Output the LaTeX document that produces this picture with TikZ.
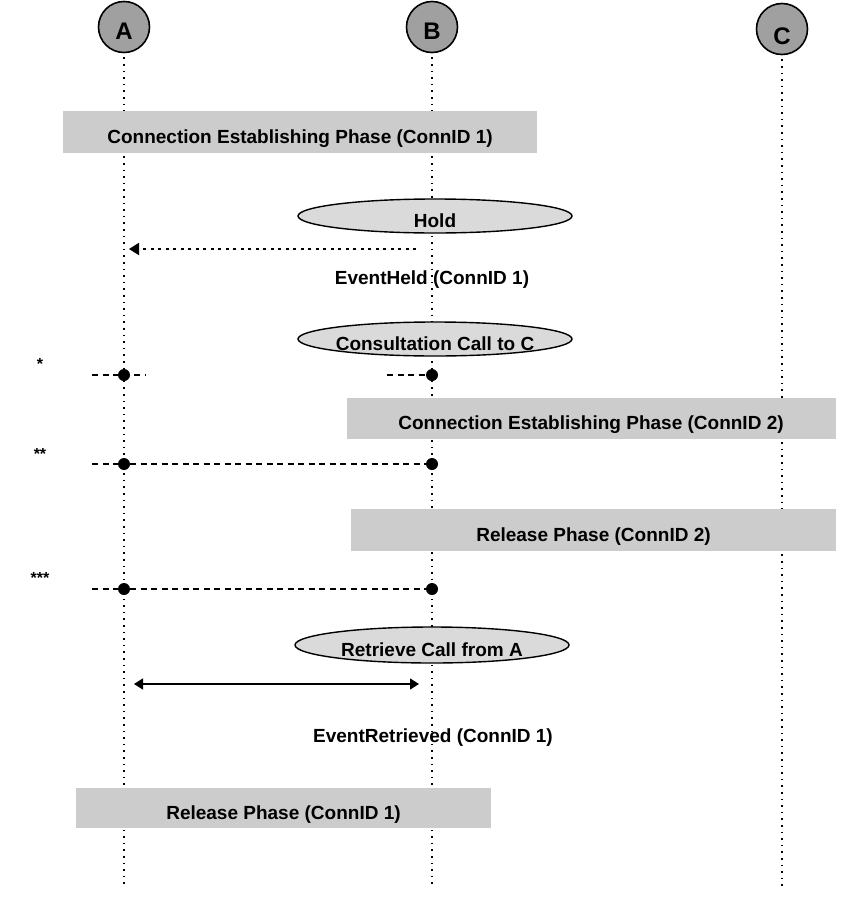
\documentclass[tikz,border=0pt]{standalone}
\usepackage{fontspec}
\setmainfont{Liberation Sans}
\usetikzlibrary{shapes.geometric,arrows.meta}
\definecolor{partygray}{HTML}{A0A0A0}
\definecolor{phasegray}{HTML}{CCCCCC}
\definecolor{actgray}{HTML}{DADADA}
\begin{document}
\begin{tikzpicture}[x=1pt,y=-1pt,
  party/.style={circle,draw=black,line width=1.6pt,fill=partygray,minimum size=51pt,inner sep=0pt,text height=25pt,text depth=0pt,font=\fontsize{24}{26}\selectfont\bfseries},
  lifeline/.style={line width=1.4pt,dash pattern=on 1.6pt off 5pt},
  phase/.style={rectangle,fill=phasegray,inner sep=0pt,text height=22pt,text depth=0pt,font=\fontsize{19}{21}\selectfont\bfseries},
  act/.style={ellipse,draw=black,line width=1.4pt,fill=actgray,minimum width=274pt,minimum height=34pt,inner ysep=0pt,inner xsep=-15pt,text height=22pt,text depth=0pt,font=\fontsize{19}{21}\selectfont\bfseries},
  msg/.style={text height=22pt,text depth=0pt,font=\fontsize{19}{21}\selectfont\bfseries},
  stars/.style={font=\fontsize{16}{18}\selectfont\bfseries},
  pt/.style={circle,fill=black,minimum size=12pt,inner sep=0pt},
  sync/.style={line width=1.3pt,dash pattern=on 6pt off 4.5pt}]
\useasboundingbox (0,0) rectangle (855,900);
% parties
\node[party] (A) at (124,27) {A};
\node[party] (B) at (432,27) {B};
\node[party,text height=30pt] (C) at (782,29) {C};
\coordinate (Aend) at (124,887);
\coordinate (Bend) at (432,887);
\coordinate (Cend) at (782,887);
\draw[lifeline] ([yshift=-4pt]A.south) -- (Aend);
\draw[lifeline] ([yshift=-4pt]B.south) -- (Bend);
\draw[lifeline] ([yshift=-4pt]C.south) -- (Cend);
% phases and actions
\node[phase,minimum width=474pt,minimum height=42pt] (est1) at (300,132) {Connection Establishing Phase (ConnID 1)};
\node[act] (hold) at (435,216) {Hold};
\coordinate (heldB) at (416,249);
\coordinate (heldA) at (129,249);
\draw[line width=1.8pt,dash pattern=on 3pt off 4.5pt,-{Triangle[length=10pt,width=12pt]}] (heldB) -- (heldA);
\node[msg] (held) at (432,273) {EventHeld (ConnID 1)};
\node[act] (consult) at (435,339) {Consultation Call to C};
\node[stars] (m1) at (40,364) {*};
\node[pt] (a1) at (124,375) {};
\node[pt] (b1) at (432,375) {};
\coordinate (a1l) at (92,375);
\coordinate (a1r) at (145,375);
\coordinate (b1l) at (387,375);
\draw[sync] (a1l) -- (a1r);
\draw[sync] (b1l) -- (b1);
\node[phase,minimum width=489pt,minimum height=41pt] (est2) at (591,418) {Connection Establishing Phase (ConnID 2)};
\node[stars] (m2) at (40,454) {**};
\node[pt] (a2) at (124,464) {};
\node[pt] (b2) at (432,464) {};
\coordinate (a2l) at (92,464);
\draw[sync] (a2l) -- (a2) -- (b2);
\node[phase,minimum width=485pt,minimum height=42pt] (rel2) at (593.5,530) {Release Phase (ConnID 2)};
\node[stars] (m3) at (40,578) {***};
\node[pt] (a3) at (124,589) {};
\node[pt] (b3) at (432,589) {};
\coordinate (a3l) at (92,589);
\draw[sync] (a3l) -- (a3) -- (b3);
\node[act,minimum height=36pt] (retrieve) at (432,645) {Retrieve Call from A};
\coordinate (retA) at (134,684);
\coordinate (retB) at (419,684);
\draw[line width=1.6pt,{Triangle[length=9pt,width=11pt]}-{Triangle[length=9pt,width=11pt]}] (retA) -- (retB);
\node[msg] (retrieved) at (433,731) {EventRetrieved (ConnID 1)};
\node[phase,minimum width=415pt,minimum height=40pt] (rel1) at (283.5,808) {Release Phase (ConnID 1)};
\end{tikzpicture}
\end{document}
